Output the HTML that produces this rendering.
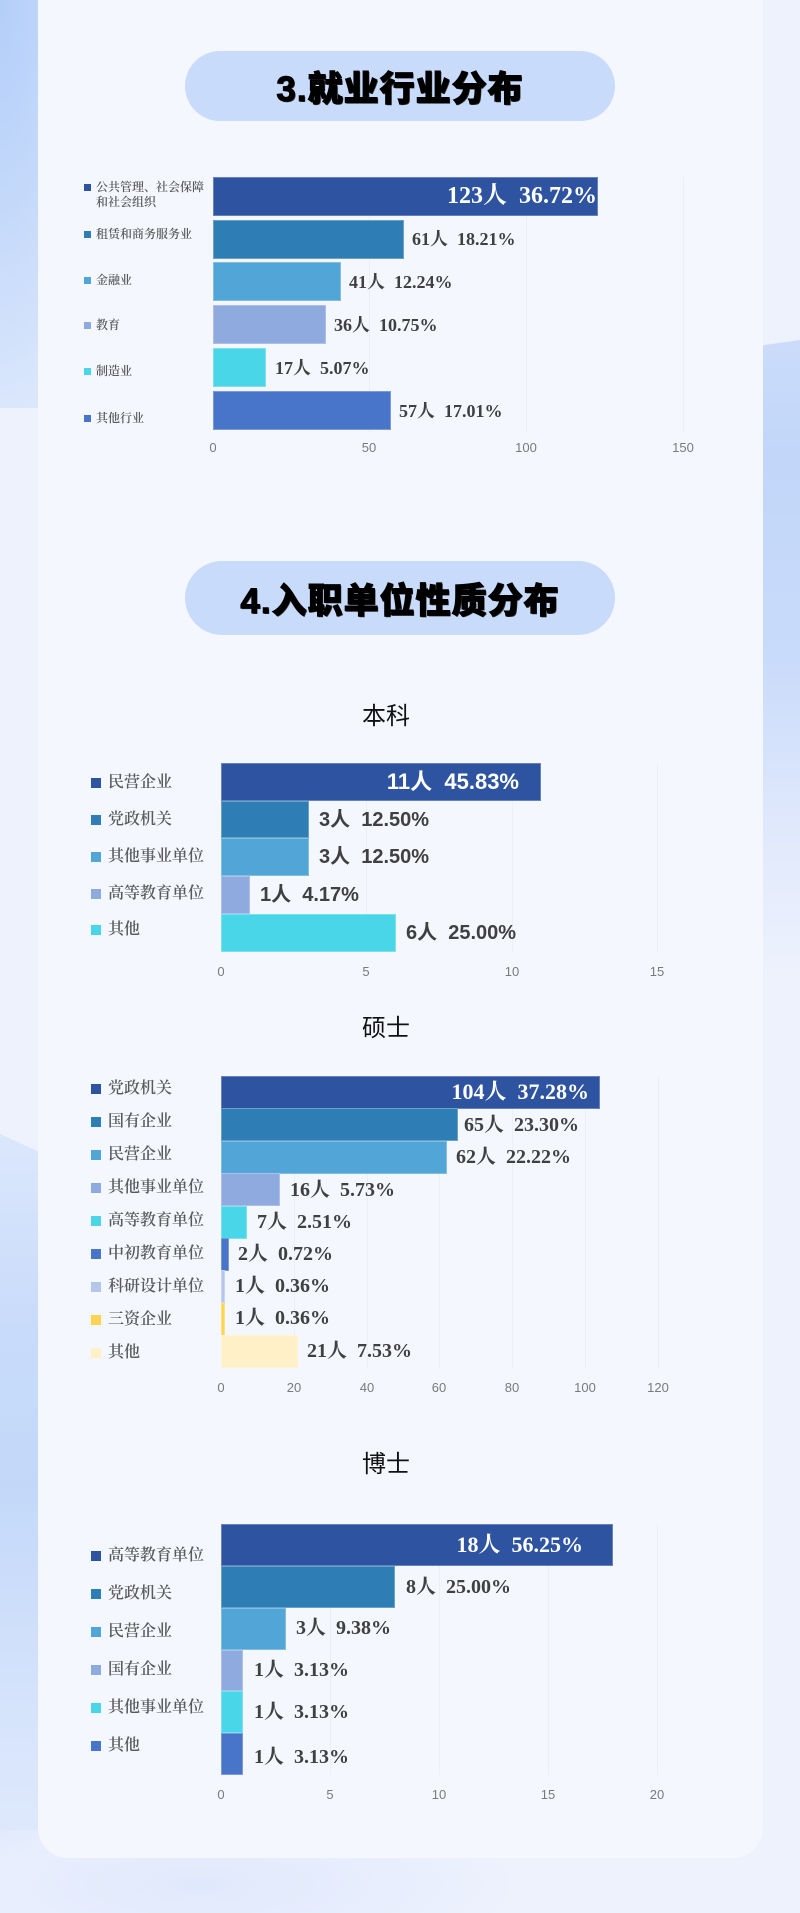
<!DOCTYPE html>
<html><head><meta charset="utf-8">
<style>
*{margin:0;padding:0;box-sizing:border-box}
html,body{width:800px;height:1913px;overflow:hidden}
body{position:relative;background:#eef2fd;font-family:"Liberation Sans","Noto Sans CJK SC",sans-serif}
.abs{position:absolute}
.card{position:absolute;left:38px;top:-40px;width:725px;height:1898px;border-radius:30px;background:#f4f7fd}
.pill{position:absolute;left:185px;width:430px;background:#c8dbfb;display:flex;align-items:center;justify-content:center;
 font-family:"Liberation Sans","Noto Sans CJK SC",sans-serif;font-weight:900;font-size:35px;color:#000;letter-spacing:1px;
 -webkit-text-stroke:1px #000;text-shadow:1px 1px 0 #333}
.sub{position:absolute;width:200px;left:286px;text-align:center;font-family:"Liberation Sans","Noto Sans CJK SC",sans-serif;font-size:24px;color:#111;line-height:30px;height:30px}
.bar{position:absolute;box-shadow:inset 0 0 0 1px rgba(255,255,255,0.28)}
.grid{position:absolute;width:1px;background:#eceff5}
.tick{position:absolute;width:40px;margin-left:-20px;text-align:center;font-family:"Liberation Sans Narrow","Liberation Sans",sans-serif;font-size:13px;color:#7a7a7a;line-height:16px;height:16px}
.sq{position:absolute}
.lg{position:absolute;font-family:"Liberation Serif","Noto Serif CJK SC",serif;font-weight:600;color:#5a5a5a;white-space:nowrap}
.v{position:absolute;white-space:pre;font-family:"Liberation Serif","Noto Serif CJK SC",serif;font-weight:bold;color:#404040;line-height:24px;height:24px}
.vs{position:absolute;white-space:pre;font-family:"Liberation Sans","Noto Sans CJK SC",sans-serif;font-weight:bold;color:#404040;line-height:24px;height:24px}
.w{color:#fff}
</style></head><body>

<!-- background blobs -->
<div class="abs" style="left:0;top:0;width:44px;height:408px;background:radial-gradient(ellipse 120px 420px at 0 0,#b3cef9 0%,#c6dafa 55%,#dbe7fc 100%)"></div>
<div class="abs" style="left:0;top:1134px;width:44px;height:779px;clip-path:polygon(0 0,100% 20px,100% 100%,0 100%);background:linear-gradient(180deg,#dbe7fc 0%,#c8dbfa 25%,#c3d8f9 45%,#d3e2fb 70%,#e4ecfd 100%)"></div>
<div class="abs" style="left:0;top:1830px;width:800px;height:83px;background:radial-gradient(ellipse 330px 90px at 200px 55px,#e0e9fc 0%,#e8eefd 60%,rgba(238,242,253,0) 100%)"></div>
<div class="abs" style="left:758px;top:340px;width:42px;height:640px;clip-path:polygon(0 6px,100% 0,100% 100%,0 100%);background:linear-gradient(180deg,#cbdcfa 0%,#c1d6f9 18%,#c9dbfa 50%,#dfe8fc 75%,#eef2fd 100%)"></div>

<div class="card"></div>

<!-- Section 3 -->
<div class="pill" style="top:51px;height:70px;border-radius:35px">3.就业行业分布</div>

<div class="grid" style="left:369px;top:177px;height:255px"></div>
<div class="grid" style="left:526px;top:177px;height:255px"></div>
<div class="grid" style="left:683px;top:177px;height:255px"></div>

<div class="bar" style="left:213px;top:177px;width:385px;height:39px;background:#2e54a1"></div>
<div class="bar" style="left:213px;top:220px;width:191px;height:39px;background:#2e7eb5"></div>
<div class="bar" style="left:213px;top:262px;width:128px;height:39px;background:#52a5d7"></div>
<div class="bar" style="left:213px;top:305px;width:113px;height:39px;background:#8eaade"></div>
<div class="bar" style="left:213px;top:348px;width:53px;height:39px;background:#48d6e8"></div>
<div class="bar" style="left:213px;top:391px;width:178px;height:39px;background:#4874c9"></div>

<div class="v w" style="right:203px;top:184px;font-size:24px">123人  36.72%</div>
<div class="v" style="left:412px;top:227px;font-size:18px">61人  18.21%</div>
<div class="v" style="left:349px;top:270px;font-size:18px">41人  12.24%</div>
<div class="v" style="left:334px;top:313px;font-size:18px">36人  10.75%</div>
<div class="v" style="left:275px;top:356px;font-size:18px">17人  5.07%</div>
<div class="v" style="left:399px;top:399px;font-size:18px">57人  17.01%</div>

<div class="sq" style="left:84px;top:184px;width:7px;height:7px;background:#2e54a1"></div>
<div class="lg" style="left:96px;top:180px;font-size:12px;line-height:15px">公共管理、社会保障<br>和社会组织</div>
<div class="sq" style="left:84px;top:231px;width:7px;height:7px;background:#2e7eb5"></div>
<div class="lg" style="left:96px;top:226px;font-size:12px;line-height:16px">租赁和商务服务业</div>
<div class="sq" style="left:84px;top:277px;width:7px;height:7px;background:#52a5d7"></div>
<div class="lg" style="left:96px;top:272px;font-size:12px;line-height:16px">金融业</div>
<div class="sq" style="left:84px;top:322px;width:7px;height:7px;background:#8eaade"></div>
<div class="lg" style="left:96px;top:317px;font-size:12px;line-height:16px">教育</div>
<div class="sq" style="left:84px;top:368px;width:7px;height:7px;background:#48d6e8"></div>
<div class="lg" style="left:96px;top:363px;font-size:12px;line-height:16px">制造业</div>
<div class="sq" style="left:84px;top:415px;width:7px;height:7px;background:#4874c9"></div>
<div class="lg" style="left:96px;top:410px;font-size:12px;line-height:16px">其他行业</div>

<div class="tick" style="left:213px;top:440px">0</div>
<div class="tick" style="left:369px;top:440px">50</div>
<div class="tick" style="left:526px;top:440px">100</div>
<div class="tick" style="left:683px;top:440px">150</div>

<!-- Section 4 -->
<div class="pill" style="top:561px;height:74px;border-radius:37px">4.入职单位性质分布</div>

<!-- 本科 -->
<div class="sub" style="top:702px">本科</div>
<div class="grid" style="left:366px;top:763px;height:189px"></div>
<div class="grid" style="left:512px;top:763px;height:189px"></div>
<div class="grid" style="left:657px;top:763px;height:189px"></div>

<div class="bar" style="left:221px;top:763px;width:320px;height:38px;background:#2e54a1"></div>
<div class="bar" style="left:221px;top:801px;width:88px;height:37px;background:#2e7eb5"></div>
<div class="bar" style="left:221px;top:838px;width:88px;height:38px;background:#52a5d7"></div>
<div class="bar" style="left:221px;top:876px;width:29px;height:38px;background:#8eaade"></div>
<div class="bar" style="left:221px;top:914px;width:175px;height:38px;background:#48d6e8"></div>

<div class="vs w" style="right:281px;top:770px;font-size:22px">11人  45.83%</div>
<div class="vs" style="left:319px;top:808px;font-size:20px">3人  12.50%</div>
<div class="vs" style="left:319px;top:845px;font-size:20px">3人  12.50%</div>
<div class="vs" style="left:260px;top:883px;font-size:20px">1人  4.17%</div>
<div class="vs" style="left:406px;top:921px;font-size:20px">6人  25.00%</div>

<div class="sq" style="left:91px;top:778px;width:10px;height:10px;background:#2e54a1"></div>
<div class="lg" style="left:108px;top:772px;font-size:16px;line-height:22px">民营企业</div>
<div class="sq" style="left:91px;top:815px;width:10px;height:10px;background:#2e7eb5"></div>
<div class="lg" style="left:108px;top:809px;font-size:16px;line-height:22px">党政机关</div>
<div class="sq" style="left:91px;top:852px;width:10px;height:10px;background:#52a5d7"></div>
<div class="lg" style="left:108px;top:846px;font-size:16px;line-height:22px">其他事业单位</div>
<div class="sq" style="left:91px;top:889px;width:10px;height:10px;background:#8eaade"></div>
<div class="lg" style="left:108px;top:883px;font-size:16px;line-height:22px">高等教育单位</div>
<div class="sq" style="left:91px;top:925px;width:10px;height:10px;background:#48d6e8"></div>
<div class="lg" style="left:108px;top:919px;font-size:16px;line-height:22px">其他</div>

<div class="tick" style="left:221px;top:964px">0</div>
<div class="tick" style="left:366px;top:964px">5</div>
<div class="tick" style="left:512px;top:964px">10</div>
<div class="tick" style="left:657px;top:964px">15</div>

<!-- 硕士 -->
<div class="sub" style="top:1014px">硕士</div>
<div class="grid" style="left:294px;top:1076px;height:292px"></div>
<div class="grid" style="left:367px;top:1076px;height:292px"></div>
<div class="grid" style="left:439px;top:1076px;height:292px"></div>
<div class="grid" style="left:512px;top:1076px;height:292px"></div>
<div class="grid" style="left:585px;top:1076px;height:292px"></div>
<div class="grid" style="left:658px;top:1076px;height:292px"></div>

<div class="bar" style="left:221px;top:1076px;width:379px;height:33px;background:#2e54a1"></div>
<div class="bar" style="left:221px;top:1108px;width:237px;height:33px;background:#2e7eb5"></div>
<div class="bar" style="left:221px;top:1141px;width:226px;height:33px;background:#52a5d7"></div>
<div class="bar" style="left:221px;top:1173px;width:59px;height:33px;background:#8eaade"></div>
<div class="bar" style="left:221px;top:1206px;width:26px;height:33px;background:#48d6e8"></div>
<div class="bar" style="left:221px;top:1238px;width:8px;height:33px;background:#4874c9"></div>
<div class="bar" style="left:221px;top:1270px;width:4px;height:33px;background:#b4c6ea"></div>
<div class="bar" style="left:221px;top:1303px;width:4px;height:33px;background:#ffd451"></div>
<div class="bar" style="left:221px;top:1335px;width:77px;height:33px;background:#fff0c8"></div>

<div class="v w" style="right:211px;top:1080px;font-size:22px">104人  37.28%</div>
<div class="v" style="left:464px;top:1113px;font-size:20px">65人  23.30%</div>
<div class="v" style="left:456px;top:1145px;font-size:20px">62人  22.22%</div>
<div class="v" style="left:290px;top:1178px;font-size:20px">16人  5.73%</div>
<div class="v" style="left:257px;top:1210px;font-size:20px">7人  2.51%</div>
<div class="v" style="left:238px;top:1242px;font-size:20px">2人  0.72%</div>
<div class="v" style="left:235px;top:1274px;font-size:20px">1人  0.36%</div>
<div class="v" style="left:235px;top:1306px;font-size:20px">1人  0.36%</div>
<div class="v" style="left:307px;top:1339px;font-size:20px">21人  7.53%</div>

<div class="sq" style="left:91px;top:1084px;width:10px;height:10px;background:#2e54a1"></div>
<div class="lg" style="left:108px;top:1078px;font-size:16px;line-height:22px">党政机关</div>
<div class="sq" style="left:91px;top:1117px;width:10px;height:10px;background:#2e7eb5"></div>
<div class="lg" style="left:108px;top:1111px;font-size:16px;line-height:22px">国有企业</div>
<div class="sq" style="left:91px;top:1150px;width:10px;height:10px;background:#52a5d7"></div>
<div class="lg" style="left:108px;top:1144px;font-size:16px;line-height:22px">民营企业</div>
<div class="sq" style="left:91px;top:1183px;width:10px;height:10px;background:#8eaade"></div>
<div class="lg" style="left:108px;top:1177px;font-size:16px;line-height:22px">其他事业单位</div>
<div class="sq" style="left:91px;top:1216px;width:10px;height:10px;background:#48d6e8"></div>
<div class="lg" style="left:108px;top:1210px;font-size:16px;line-height:22px">高等教育单位</div>
<div class="sq" style="left:91px;top:1249px;width:10px;height:10px;background:#4874c9"></div>
<div class="lg" style="left:108px;top:1243px;font-size:16px;line-height:22px">中初教育单位</div>
<div class="sq" style="left:91px;top:1282px;width:10px;height:10px;background:#b4c6ea"></div>
<div class="lg" style="left:108px;top:1276px;font-size:16px;line-height:22px">科研设计单位</div>
<div class="sq" style="left:91px;top:1315px;width:10px;height:10px;background:#ffd451"></div>
<div class="lg" style="left:108px;top:1309px;font-size:16px;line-height:22px">三资企业</div>
<div class="sq" style="left:91px;top:1348px;width:10px;height:10px;background:#fff0c8"></div>
<div class="lg" style="left:108px;top:1342px;font-size:16px;line-height:22px">其他</div>

<div class="tick" style="left:221px;top:1380px">0</div>
<div class="tick" style="left:294px;top:1380px">20</div>
<div class="tick" style="left:367px;top:1380px">40</div>
<div class="tick" style="left:439px;top:1380px">60</div>
<div class="tick" style="left:512px;top:1380px">80</div>
<div class="tick" style="left:585px;top:1380px">100</div>
<div class="tick" style="left:658px;top:1380px">120</div>

<!-- 博士 -->
<div class="sub" style="top:1450px">博士</div>
<div class="grid" style="left:330px;top:1524px;height:251px"></div>
<div class="grid" style="left:439px;top:1524px;height:251px"></div>
<div class="grid" style="left:548px;top:1524px;height:251px"></div>
<div class="grid" style="left:657px;top:1524px;height:251px"></div>

<div class="bar" style="left:221px;top:1524px;width:392px;height:42px;background:#2e54a1"></div>
<div class="bar" style="left:221px;top:1566px;width:174px;height:42px;background:#2e7eb5"></div>
<div class="bar" style="left:221px;top:1608px;width:65px;height:42px;background:#52a5d7"></div>
<div class="bar" style="left:221px;top:1650px;width:22px;height:41px;background:#8eaade"></div>
<div class="bar" style="left:221px;top:1691px;width:22px;height:42px;background:#48d6e8"></div>
<div class="bar" style="left:221px;top:1733px;width:22px;height:42px;background:#4874c9"></div>

<div class="v w" style="right:217px;top:1533px;font-size:22px">18人  56.25%</div>
<div class="v" style="left:406px;top:1575px;font-size:20px">8人  25.00%</div>
<div class="v" style="left:296px;top:1616px;font-size:20px">3人  9.38%</div>
<div class="v" style="left:254px;top:1658px;font-size:20px">1人  3.13%</div>
<div class="v" style="left:254px;top:1700px;font-size:20px">1人  3.13%</div>
<div class="v" style="left:254px;top:1745px;font-size:20px">1人  3.13%</div>

<div class="sq" style="left:91px;top:1551px;width:10px;height:10px;background:#2e54a1"></div>
<div class="lg" style="left:108px;top:1545px;font-size:16px;line-height:22px">高等教育单位</div>
<div class="sq" style="left:91px;top:1589px;width:10px;height:10px;background:#2e7eb5"></div>
<div class="lg" style="left:108px;top:1583px;font-size:16px;line-height:22px">党政机关</div>
<div class="sq" style="left:91px;top:1627px;width:10px;height:10px;background:#52a5d7"></div>
<div class="lg" style="left:108px;top:1621px;font-size:16px;line-height:22px">民营企业</div>
<div class="sq" style="left:91px;top:1665px;width:10px;height:10px;background:#8eaade"></div>
<div class="lg" style="left:108px;top:1659px;font-size:16px;line-height:22px">国有企业</div>
<div class="sq" style="left:91px;top:1703px;width:10px;height:10px;background:#48d6e8"></div>
<div class="lg" style="left:108px;top:1697px;font-size:16px;line-height:22px">其他事业单位</div>
<div class="sq" style="left:91px;top:1741px;width:10px;height:10px;background:#4874c9"></div>
<div class="lg" style="left:108px;top:1735px;font-size:16px;line-height:22px">其他</div>

<div class="tick" style="left:221px;top:1787px">0</div>
<div class="tick" style="left:330px;top:1787px">5</div>
<div class="tick" style="left:439px;top:1787px">10</div>
<div class="tick" style="left:548px;top:1787px">15</div>
<div class="tick" style="left:657px;top:1787px">20</div>

</body></html>
